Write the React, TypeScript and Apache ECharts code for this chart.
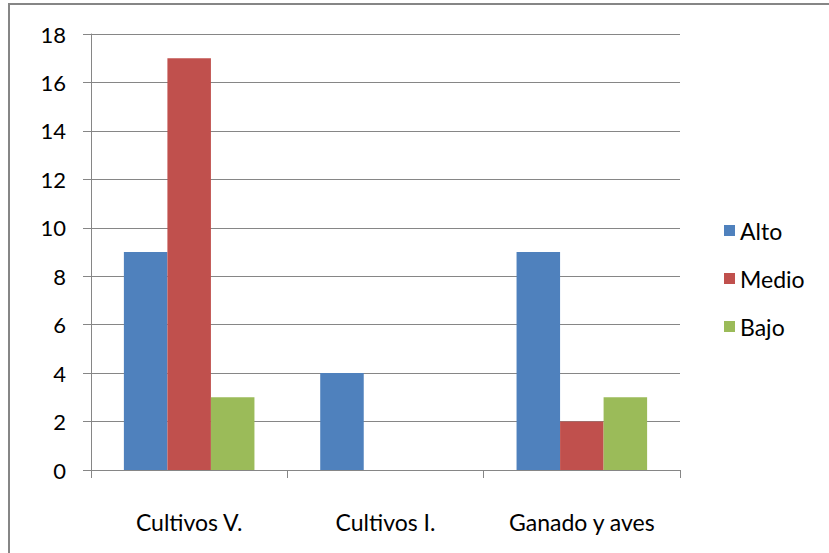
import React, { useEffect, useRef } from "react";
import * as echarts from "echarts";

const categories = ["Cultivos V.", "Cultivos I.", "Ganado y aves"];
const alto = [9, 4, 9];
const medio = [17, 0, 2];
const bajo = [3, 0, 3];
const seriesNames = ["Alto", "Medio", "Bajo"];
const colors = ["#4F81BD", "#C0504D", "#9BBB59"];

const FONT = "Lato, 'Open Sans', sans-serif";

export default function App() {
  const ref = useRef<HTMLDivElement>(null);
  useEffect(() => {
    if (!ref.current) return;
    const chart = echarts.init(ref.current, null, { renderer: "svg" });
    const values = [alto, medio, bajo];
    chart.setOption({
      animation: false,
      backgroundColor: "#ffffff",
      textStyle: { fontFamily: FONT },
      graphic: [
        {
          type: "rect",
          shape: { x: 9, y: 4, width: 900, height: 700 },
          style: { fill: "none", stroke: "#868686", lineWidth: 2 },
          silent: true,
        },
      ],
      grid: { left: 91, right: 149, top: 34, bottom: 83 },
      legend: {
        orient: "vertical",
        left: 719,
        top: 214,
        itemWidth: 11,
        itemHeight: 11,
        itemGap: 25,
        icon: "rect",
        textStyle: { fontSize: 23, color: "#000", fontFamily: FONT },
        data: seriesNames,
      },
      xAxis: {
        type: "category",
        data: categories,
        axisLine: { lineStyle: { color: "#868686", width: 1 } },
        axisTick: { show: true, length: 8, lineStyle: { color: "#868686" } },
        axisLabel: { color: "#000", fontSize: 23, margin: 40, fontFamily: FONT },
      },
      yAxis: {
        type: "value",
        min: 0,
        max: 18,
        interval: 2,
        axisLine: { show: true, lineStyle: { color: "#868686", width: 1 } },
        axisTick: { show: true, length: 8, lineStyle: { color: "#868686" } },
        axisLabel: { color: "#000", fontSize: 22, margin: 25, fontFamily: FONT },
        splitLine: { lineStyle: { color: "#868686", width: 1 } },
      },
      series: seriesNames.map((name, i) => ({
        name,
        type: "bar",
        data: values[i],
        itemStyle: { color: colors[i] },
        barGap: "0%",
        barCategoryGap: "33.5%",
      })),
    });
    return () => chart.dispose();
  }, []);
  return (
    <div
      ref={ref}
      style={{ position: "fixed", left: 0, top: 0, width: 829, height: 553 }}
    />
  );
}
